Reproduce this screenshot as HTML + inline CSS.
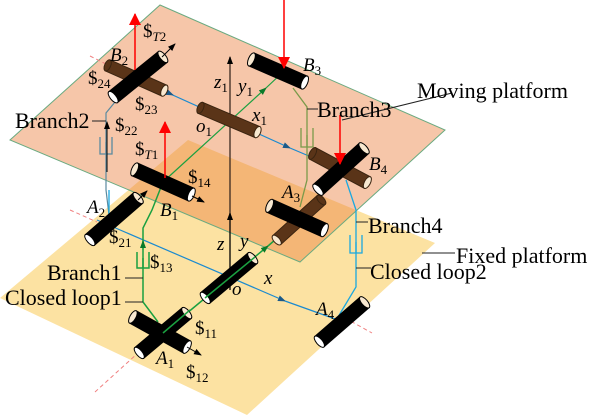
<!DOCTYPE html>
<html><head><meta charset="utf-8"><style>
body{margin:0;background:#fff}
svg{display:block}
text{font-family:"Liberation Serif",serif;fill:#000}
.l{font-size:22px}
.s{font-size:19px}
.i{font-style:italic}
.sub{font-size:13px}
</style></head><body>
<svg width="600" height="420" viewBox="0 0 600 420" xmlns="http://www.w3.org/2000/svg">
<defs>
<marker id="ab" markerWidth="8" markerHeight="6" refX="7" refY="3" orient="auto" markerUnits="userSpaceOnUse"><path d="M0,0 L8,3 L0,6 Z" fill="#000"/></marker>
<marker id="abl" markerWidth="8" markerHeight="6" refX="7" refY="3" orient="auto" markerUnits="userSpaceOnUse"><path d="M0,0 L8,3 L0,6 Z" fill="#1a5a8a"/></marker>
<marker id="ag" markerWidth="8" markerHeight="6" refX="7" refY="3" orient="auto" markerUnits="userSpaceOnUse"><path d="M0,0 L8,3 L0,6 Z" fill="#0a7a2a"/></marker>
<marker id="ar" markerWidth="12" markerHeight="12" refX="11" refY="6" orient="auto" markerUnits="userSpaceOnUse"><path d="M0,0 L12,6 L0,12 Z" fill="#f00"/></marker>
</defs>
<polygon points="188,140 435,243 247,415 0,298" fill="#fce2a2"/>
<polygon points="160,5 445,130 300,262 10,140" fill="#eb8140" fill-opacity="0.45" stroke="#6aaa80" stroke-width="1"/>
<g stroke="#f08080" stroke-width="1" stroke-dasharray="4,3" fill="none">
<line x1="95" y1="392" x2="160" y2="333"/>
<line x1="70" y1="210" x2="97" y2="222"/>
<line x1="345" y1="318" x2="372" y2="333"/>
<line x1="90" y1="56" x2="108" y2="65"/>
</g>
<line x1="135" y1="78" x2="290" y2="148" stroke="#1a8ad0" stroke-width="1.2" marker-end="url(#abl)"/>
<line x1="290" y1="148" x2="342" y2="170" stroke="#1a8ad0" stroke-width="1.2"/>
<line x1="135" y1="78" x2="173" y2="95" stroke="#1a8ad0" stroke-width="1.2" marker-end="url(#abl)"/>
<line x1="97" y1="220" x2="285" y2="301" stroke="#1a8ad0" stroke-width="1.2" marker-end="url(#abl)"/>
<line x1="285" y1="301" x2="338" y2="320" stroke="#1a8ad0" stroke-width="1.2"/>
<line x1="163" y1="333" x2="268" y2="246" stroke="#1aa040" stroke-width="1.5" marker-end="url(#ag)"/>
<line x1="268" y1="246" x2="298" y2="220" stroke="#1aa040" stroke-width="1.5"/>
<line x1="163" y1="182" x2="266" y2="88" stroke="#1aa040" stroke-width="1.2" marker-end="url(#ag)"/>
<line x1="266" y1="88" x2="283" y2="72" stroke="#1aa040" stroke-width="1.2"/>
<line x1="230" y1="290" x2="230" y2="213" stroke="#000" stroke-width="1.3" marker-end="url(#ab)"/>
<line x1="230" y1="213" x2="230" y2="57" stroke="#3a2a20" stroke-width="1.3" marker-end="url(#ab)"/>
<polyline points="158,322 143,302 143,228 152,210 163,182" fill="none" stroke="#1aa040" stroke-width="1.5"/>
<path d="M137,252 V268 H149 V252 M143,268 V258" fill="none" stroke="#1aa040" stroke-width="1.5"/>
<line x1="143" y1="250" x2="143" y2="241" stroke="#1aa040" stroke-width="1.3" marker-end="url(#ag)"/>
<polyline points="293,88 307,107 307,180 300,207" fill="none" stroke="#7a9a4a" stroke-width="1.3"/>
<path d="M301,128 V147 H313 V128 M307,147 V135" fill="none" stroke="#7a9a4a" stroke-width="1.3"/>
<polyline points="115,102 106,113 106,190 109,215" fill="none" stroke="#5a8aa0" stroke-width="1.2"/>
<line x1="109" y1="190" x2="109" y2="215" stroke="#1aa8e0" stroke-width="1.3"/>
<path d="M100,137 V154 H112 V137 M106,154 V142" fill="none" stroke="#5a8aa0" stroke-width="1.3"/>
<line x1="107" y1="172" x2="107" y2="122" stroke="#000" stroke-width="1" marker-end="url(#ab)"/>
<polyline points="346,180 356,210 356,287 338,317" fill="none" stroke="#1aa8e0" stroke-width="1.3"/>
<path d="M350,235 V253 H362 V235 M356,253 V242" fill="none" stroke="#1aa8e0" stroke-width="1.3"/>
<g stroke="#3a2410" stroke-width="1">
<g transform="translate(136,78) rotate(24)"><rect x="-31" y="-6" width="62" height="12" fill="#5a3418"/><ellipse cx="-31" cy="0" rx="3" ry="6" fill="#5a3418"/><ellipse cx="31" cy="0" rx="3" ry="6" fill="#f8e8d0"/></g>
<g transform="translate(229,120) rotate(23)"><rect x="-31" y="-6" width="62" height="12" fill="#5a3418"/><ellipse cx="-31" cy="0" rx="3" ry="6" fill="#5a3418"/><ellipse cx="31" cy="0" rx="3" ry="6" fill="#f8e8d0"/></g>
<g transform="translate(340,168) rotate(28)"><rect x="-31" y="-6.5" width="62" height="13" fill="#5a3418"/><ellipse cx="-31" cy="0" rx="3" ry="6.5" fill="#5a3418"/><ellipse cx="31" cy="0" rx="3" ry="6.5" fill="#f8e8d0"/></g>
<g transform="translate(299,220) rotate(-42)"><rect x="-30" y="-6" width="60" height="12" fill="#5a3418"/><ellipse cx="-30" cy="0" rx="3" ry="6" fill="#f8e8d0"/><ellipse cx="30" cy="0" rx="3" ry="6" fill="#5a3418"/></g>
</g>
<g stroke="#000" stroke-width="1">
<g transform="translate(138,77) rotate(-39)"><rect x="-32" y="-7" width="64" height="14" fill="#000"/><ellipse cx="-32" cy="0" rx="3" ry="7" fill="#fff"/><ellipse cx="32" cy="0" rx="3" ry="7" fill="#f8e8d0"/></g>
<g transform="translate(278,71) rotate(23.5)"><rect x="-29" y="-7" width="58" height="14" fill="#000"/><ellipse cx="-29" cy="0" rx="3" ry="7" fill="#f8e8d0"/><ellipse cx="29" cy="0" rx="3" ry="7" fill="#fff"/></g>
<g transform="translate(163,182) rotate(24)"><rect x="-31" y="-7" width="62" height="14" fill="#000"/><ellipse cx="-31" cy="0" rx="3" ry="7" fill="#f8e8d0"/><ellipse cx="31" cy="0" rx="3" ry="7" fill="#fff"/></g>
<g transform="translate(341,169) rotate(-42)"><rect x="-31" y="-7" width="62" height="14" fill="#000"/><ellipse cx="-31" cy="0" rx="3" ry="7" fill="#fff"/><ellipse cx="31" cy="0" rx="3" ry="7" fill="#f8e8d0"/></g>
<g transform="translate(114,219) rotate(-41)"><rect x="-32" y="-7" width="64" height="14" fill="#000"/><ellipse cx="-32" cy="0" rx="3" ry="7" fill="#fff"/><ellipse cx="32" cy="0" rx="3" ry="7" fill="#f8e8d0"/></g>
<g transform="translate(297,218) rotate(24)"><rect x="-30" y="-7" width="60" height="14" fill="#000"/><ellipse cx="-30" cy="0" rx="3" ry="7" fill="#f8e8d0"/><ellipse cx="30" cy="0" rx="3" ry="7" fill="#fff"/></g>
<g transform="translate(229,278) rotate(-40)"><rect x="-31" y="-7" width="62" height="14" fill="#000"/><ellipse cx="-31" cy="0" rx="3" ry="7" fill="#fff"/><ellipse cx="31" cy="0" rx="3" ry="7" fill="#f8e8d0"/></g>
<g transform="translate(160,332) rotate(29)"><rect x="-31" y="-7" width="62" height="14" fill="#000"/><ellipse cx="-31" cy="0" rx="3" ry="7" fill="#f8e8d0"/><ellipse cx="31" cy="0" rx="3" ry="7" fill="#fff"/></g>
<g transform="translate(163,333) rotate(-40)"><rect x="-31" y="-7" width="62" height="14" fill="#000"/><ellipse cx="-31" cy="0" rx="3" ry="7" fill="#fff"/><ellipse cx="31" cy="0" rx="3" ry="7" fill="#f8e8d0"/></g>
<g transform="translate(342,322) rotate(-41)"><rect x="-30" y="-7" width="60" height="14" fill="#000"/><ellipse cx="-30" cy="0" rx="3" ry="7" fill="#fff"/><ellipse cx="30" cy="0" rx="3" ry="7" fill="#f8e8d0"/></g>
</g>
<line x1="163" y1="333" x2="190" y2="310" stroke="#1aa040" stroke-width="1.5"/>
<line x1="205" y1="298" x2="255" y2="257" stroke="#1aa040" stroke-width="1.5"/>
<line x1="162" y1="57" x2="175" y2="44" stroke="#000" stroke-width="1" marker-end="url(#ab)"/>
<line x1="192" y1="196" x2="204" y2="202" stroke="#000" stroke-width="1" marker-end="url(#ab)"/>
<line x1="187" y1="347" x2="201" y2="355" stroke="#000" stroke-width="1" marker-end="url(#ab)"/>
<line x1="138" y1="200" x2="147" y2="191" stroke="#000" stroke-width="1" marker-end="url(#ab)"/>
<line x1="135" y1="70" x2="135" y2="14" stroke="#f00" stroke-width="1.5" marker-end="url(#ar)"/>
<line x1="165" y1="178" x2="165" y2="122" stroke="#f00" stroke-width="1.5" marker-end="url(#ar)"/>
<line x1="284" y1="0" x2="284" y2="68" stroke="#f00" stroke-width="1.5" marker-end="url(#ar)"/>
<line x1="340" y1="115" x2="340" y2="164" stroke="#f00" stroke-width="1.5" marker-end="url(#ar)"/>
<g stroke="#222" stroke-width="1">
<line x1="92" y1="121" x2="106" y2="121"/>
<line x1="307" y1="109" x2="318" y2="109"/>
<line x1="342" y1="120" x2="452" y2="93"/>
<line x1="422" y1="253" x2="455" y2="253"/>
<line x1="356" y1="222" x2="368" y2="222"/>
<line x1="356" y1="268" x2="371" y2="268"/>
<line x1="125" y1="278" x2="143" y2="278"/>
<line x1="125" y1="302" x2="143" y2="302"/>
</g>
<text class="l" x="15" y="128">Branch2</text>
<text class="l" x="317" y="117">Branch3</text>
<text class="l" x="417" y="98">Moving platform</text>
<text class="l" x="368" y="233">Branch4</text>
<text class="l" x="456" y="263">Fixed platform</text>
<text class="l" x="370" y="279">Closed loop2</text>
<text class="l" x="47" y="280">Branch1</text>
<text class="l" x="5" y="305">Closed loop1</text>
<g class="s">
<text x="143" y="37">$<tspan class="sub i" dy="4">T</tspan><tspan class="sub">2</tspan></text>
<text x="110" y="61" class="i">B<tspan class="sub" dy="4" style="font-style:normal">2</tspan></text>
<text x="88" y="84">$<tspan class="sub" dy="4">24</tspan></text>
<text x="135" y="110">$<tspan class="sub" dy="4">23</tspan></text>
<text x="115" y="131">$<tspan class="sub" dy="4">22</tspan></text>
<text x="135" y="155">$<tspan class="sub i" dy="4">T</tspan><tspan class="sub">1</tspan></text>
<text x="188" y="183">$<tspan class="sub" dy="4">14</tspan></text>
<text x="160" y="216" class="i">B<tspan class="sub" dy="4" style="font-style:normal">1</tspan></text>
<text x="87" y="213" class="i">A<tspan class="sub" dy="4" style="font-style:normal">2</tspan></text>
<text x="109" y="243">$<tspan class="sub" dy="4">21</tspan></text>
<text x="150" y="268">$<tspan class="sub" dy="4">13</tspan></text>
<text x="217" y="250" class="i">z</text>
<text x="240" y="247" class="i">y</text>
<text x="264" y="284" class="i">x</text>
<text x="232" y="295" class="i">o</text>
<text x="195" y="334">$<tspan class="sub" dy="4">11</tspan></text>
<text x="156" y="364" class="i">A<tspan class="sub" dy="4" style="font-style:normal">1</tspan></text>
<text x="186" y="378">$<tspan class="sub" dy="4">12</tspan></text>
<text x="214" y="88" class="i">z<tspan class="sub" dy="4" style="font-style:normal">1</tspan></text>
<text x="238" y="92" class="i">y<tspan class="sub" dy="4" style="font-style:normal">1</tspan></text>
<text x="196" y="132" class="i">o<tspan class="sub" dy="4" style="font-style:normal">1</tspan></text>
<text x="252" y="121" class="i">x<tspan class="sub" dy="4" style="font-style:normal">1</tspan></text>
<text x="303" y="71" class="i">B<tspan class="sub" dy="4" style="font-style:normal">3</tspan></text>
<text x="369" y="170" class="i">B<tspan class="sub" dy="4" style="font-style:normal">4</tspan></text>
<text x="282" y="198" class="i">A<tspan class="sub" dy="4" style="font-style:normal">3</tspan></text>
<text x="316" y="315" class="i">A<tspan class="sub" dy="4" style="font-style:normal">4</tspan></text>
</g>
</svg>
</body></html>
